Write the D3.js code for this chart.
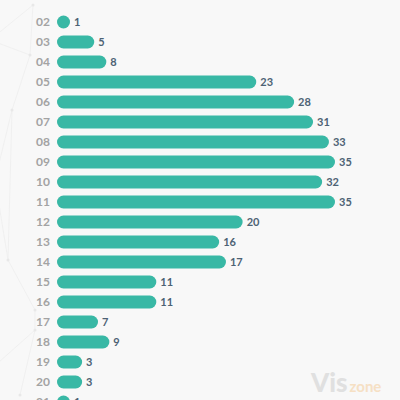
<!DOCTYPE html>
<html><head><meta charset="utf-8">
<script src="https://cdn.jsdelivr.net/npm/d3@7"></script>
<style>html,body{margin:0;padding:0;background:#f8f8f8;}svg{display:block;}</style>
</head><body>
<svg id="c" width="400" height="400"></svg>
<script>
const categories = ["02","03","04","05","06","07","08","09","10","11","12","13","14","15","16","17","18","19","20","21"];
const values = [1,5,8,23,28,31,33,35,32,35,20,16,17,11,11,7,9,3,3,1];
// bar lengths as drawn (in the chart's value units)
const barLengths = [0,3.2,4.8,24.6,29.6,32.1,34.2,35,33.3,35,22.8,19.7,20.6,11.4,11.4,3.7,5.2,1.6,1.6,0];
// faint background network (decorative)
const netNodes = [[33,5],[30,55],[12,110],[-5,180],[8,260],[35,310],[35,330],[-10,40],[-10,370],[20,395]];
const netLinks = [[0,1],[1,2],[2,3],[3,4],[4,5],[5,6],[7,1],[6,8],[6,9],[0,7],[2,4]];

const svg = d3.select("#c");
svg.append("rect").attr("width",400).attr("height",400).attr("fill","#f8f8f8");

const net = svg.append("g").attr("stroke","#ededed").attr("stroke-width",0.7);
net.selectAll("line").data(netLinks).join("line")
  .attr("x1",d=>netNodes[d[0]][0]).attr("y1",d=>netNodes[d[0]][1])
  .attr("x2",d=>netNodes[d[1]][0]).attr("y2",d=>netNodes[d[1]][1]);
net.selectAll("circle").data(netNodes).join("circle")
  .attr("cx",d=>d[0]).attr("cy",d=>d[1]).attr("r",1.5).attr("fill","#e8e8e8").attr("stroke","none");

const y = d3.scaleBand().domain(categories).range([12, 12 + 20*categories.length]).padding(0);
const x = d3.scaleLinear().domain([0,35]).range([0,265]);
const x0 = 63.5, cap = 6.5;

const rows = svg.append("g").selectAll("g").data(categories).join("g")
  .attr("transform",d=>`translate(0,${y(d)+y.bandwidth()/2})`);

rows.append("text").attr("x",50).attr("dy","0.35em").attr("text-anchor","end")
  .attr("font-family","Lato, 'Noto Sans', sans-serif").attr("font-weight","bold")
  .attr("font-size",12).attr("fill","#a3a3a3").text(d=>d);

rows.append("line").attr("x1",x0).attr("x2",(d,i)=>x0 + x(barLengths[i]))
  .attr("stroke","#38b8a5").attr("stroke-width",13).attr("stroke-linecap","round");

rows.append("text").attr("x",(d,i)=>x0 + x(barLengths[i]) + cap + 4).attr("dy","0.35em")
  .attr("font-family","Lato, 'Noto Sans', sans-serif").attr("font-weight","bold")
  .attr("font-size",11).attr("fill","#4d6274").text((d,i)=>values[i]);

// watermark
const wm = svg.append("text").attr("x",311).attr("y",392).attr("font-family","Lato, sans-serif");
wm.append("tspan").attr("font-size",26).attr("font-weight","900").attr("fill","#e0e0e0").text("Vis");
wm.append("tspan").attr("dx",2).attr("font-size",15).attr("font-weight","bold").attr("fill","#f6e0c4").text("zone");
</script>
</body></html>
